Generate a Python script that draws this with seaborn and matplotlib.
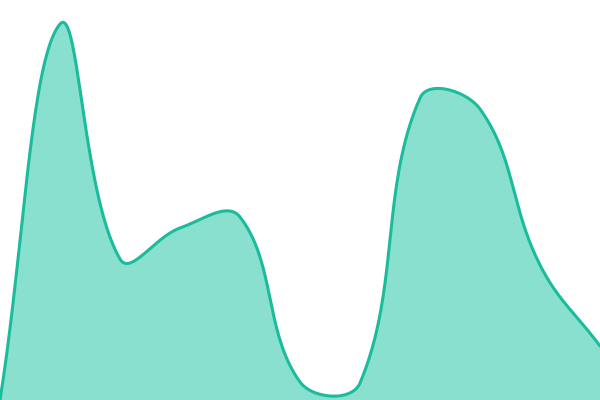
import numpy as np
import pandas as pd
import matplotlib
matplotlib.use("Agg")
import matplotlib.pyplot as plt
import seaborn as sns

# Data
categories = [0, 1, 2, 3, 4, 5, 6, 7, 8, 9, 10]
values = [0, 376, 141, 172, 183, 18, 17, 302, 291, 135, 54]

LINE = "#1abc9c"
FILL = "#8ae0cf"
TENSION = 0.4


def spline_curve(xs, ys, tension=TENSION, n=40):
    """Chart.js-style cardinal bezier smoothing of the polyline (rendering only)."""
    xs = np.asarray(xs, float)
    ys = np.asarray(ys, float)
    m = len(xs)
    cps_prev = []
    cps_next = []
    for i in range(m):
        p = np.array([xs[i], ys[i]])
        prev = np.array([xs[i - 1], ys[i - 1]]) if i > 0 else p
        nxt = np.array([xs[i + 1], ys[i + 1]]) if i < m - 1 else p
        d01 = np.hypot(*(p - prev))
        d12 = np.hypot(*(nxt - p))
        tot = d01 + d12
        s01 = d01 / tot if tot else 0
        s12 = d12 / tot if tot else 0
        fa = tension * s01
        fb = tension * s12
        cps_prev.append(p - fa * (nxt - prev))
        cps_next.append(p + fb * (nxt - prev))
    out_x, out_y = [], []
    t = np.linspace(0, 1, n)
    for i in range(m - 1):
        p0 = np.array([xs[i], ys[i]])
        p3 = np.array([xs[i + 1], ys[i + 1]])
        c1 = cps_next[i]
        c2 = cps_prev[i + 1]
        bx = ((1 - t) ** 3) * p0[0] + 3 * ((1 - t) ** 2) * t * c1[0] + 3 * (1 - t) * t ** 2 * c2[0] + t ** 3 * p3[0]
        by = ((1 - t) ** 3) * p0[1] + 3 * ((1 - t) ** 2) * t * c1[1] + 3 * (1 - t) * t ** 2 * c2[1] + t ** 3 * p3[1]
        if i > 0:
            bx, by = bx[1:], by[1:]
        out_x.extend(bx)
        out_y.extend(by)
    return np.array(out_x), np.array(out_y)


sns.set_theme(style="white")
fig = plt.figure(figsize=(6, 4), dpi=100)
ax = fig.add_axes([0, 0, 1, 1])

# pixel-space scale: x 0..600, y 0..400
px = np.array(categories, float) * 60.0
py = np.array(values, float)
sx, sy = spline_curve(px, py)
curve = pd.DataFrame({"x": sx, "y": sy})

ax.fill_between(curve["x"], curve["y"], 0, color=FILL, linewidth=0)
sns.lineplot(data=curve, x="x", y="y", ax=ax, color=LINE, linewidth=2.2,
             sort=False, estimator=None)

ax.set_xlim(0, 600)
ax.set_ylim(0, 400)
ax.axis("off")
fig.savefig("out.png", dpi=100)
